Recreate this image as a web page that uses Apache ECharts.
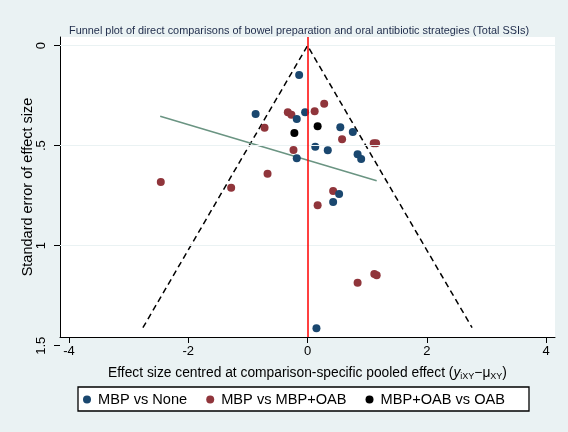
<!DOCTYPE html>
<html>
<head>
<meta charset="utf-8">
<script src="https://cdn.jsdelivr.net/npm/echarts@6/dist/echarts.min.js"></script>
<style>
  html, body { margin: 0; padding: 0; background: #eaf2f3; }
  #chart { width: 568px; height: 432px; }
</style>
</head>
<body>
<div id="chart"></div>
<script>
// Effect sizes (centred) and standard errors per comparison
const noneES = [-0.14, -0.87, -0.04, -0.18, 0.13, -0.18, 0.55, 0.76, 0.34, 0.84, 0.90, 0.53, 0.43, 0.15];
const noneSE = [0.147, 0.342, 0.333, 0.367, 0.505, 0.563, 0.408, 0.431, 0.523, 0.543, 0.567, 0.741, 0.781, 1.413];

const oabES = [-0.33, -0.27, 0.12, -0.72, -0.235, -0.67, -1.28, -2.46, 0.28, 0.58, 1.11, 1.15, 0.43, 0.17, 0.84, 1.12, 1.16];
const oabSE = [0.333, 0.345, 0.328, 0.41, 0.521, 0.64, 0.71, 0.681, 0.29, 0.468, 0.488, 0.488, 0.726, 0.798, 1.185, 1.141, 1.148];

const oabVsOabES = [-0.22, 0.17];
const oabVsOabSE = [0.437, 0.403];

// Pseudo 95% confidence limits of the funnel and the fitted regression line
const funnelES = [-2.76, 0, 2.76];
const funnelSE = [1.41, 0, 1.41];
const fitES = [-2.47, 1.16];
const fitSE = [0.353, 0.675];

// Axes
const xTicks = [-4, -2, 0, 2, 4];
const seTicks = [0, 0.5, 1, 1.5];
const seGrid = [0, 0.5, 1];
const xRange = [-4.15, 4.15];
const seRange = [-0.0435, 1.4565];
const seLabelMax = 1.5;

const seriesNames = ['MBP vs None', 'MBP vs MBP+OAB', 'MBP+OAB vs OAB'];

const zip = (a, b) => a.map((v, i) => [v, b[i]]);
const FONT = 'Liberation Sans, Arial, Helvetica, sans-serif';

const chart = echarts.init(document.getElementById('chart'), null, { renderer: 'canvas' });

chart.setOption({
  animation: false,
  backgroundColor: '#eaf2f3',
  textStyle: { fontFamily: FONT },
  title: {
    text: 'Funnel plot of direct comparisons of bowel preparation and oral antibiotic strategies (Total SSIs)',
    left: 64, top: 20,
    textStyle: { fontSize: 10.9, fontWeight: 'normal', color: '#1e2b4a', fontFamily: FONT }
  },
  legend: {
    data: seriesNames,
    left: 78, top: 387,
    orient: 'horizontal',
    icon: 'circle',
    itemWidth: 8, itemHeight: 8,
    itemGap: 19,
    padding: [5, 24, 4, 5],
    backgroundColor: '#ffffff',
    borderColor: '#000000',
    borderWidth: 1.3,
    borderRadius: 0,
    selectedMode: false,
    textStyle: { fontSize: 14.6, color: '#000', fontFamily: FONT, padding: [0, 0, 0, 2] }
  },
  grid: [
    { left: 60, top: 37, width: 495, height: 300, show: true, backgroundColor: '#ffffff', borderWidth: 0, containLabel: false, outerBoundsMode: 'none' },
    { left: 60, top: 37, width: 495, height: 308.7, show: false, containLabel: false, outerBoundsMode: 'none' }
  ],
  xAxis: [
    {
      gridIndex: 0, type: 'value', min: xRange[0], max: xRange[1],
      axisLine: { show: true, onZero: false, lineStyle: { color: '#000', width: 1 } },
      axisTick: { show: true, customValues: xTicks, length: 6, lineStyle: { color: '#000', width: 1 } },
      axisLabel: { show: true, customValues: xTicks, margin: 8, fontSize: 13, color: '#000', fontFamily: FONT,
                   formatter: v => String(v) },
      splitLine: { show: false },
      name: 'Effect size centred at comparison-specific pooled effect ({i|y}{s|iXY}−μ{s|XY})',
      nameLocation: 'middle', nameGap: 29,
      nameTextStyle: {
        fontSize: 13.8, color: '#000', fontFamily: FONT,
        rich: {
          i: { fontSize: 13.8, fontStyle: 'italic', color: '#000', fontFamily: FONT },
          s: { fontSize: 9, color: '#000', fontFamily: FONT, padding: [6, 0, 0, 0] }
        }
      }
    },
    { gridIndex: 1, type: 'value', min: xRange[0], max: xRange[1], show: false }
  ],
  yAxis: [
    {
      gridIndex: 0, type: 'value', inverse: true, min: seRange[0], max: seRange[1],
      axisLine: { show: true, onZero: false, lineStyle: { color: '#000', width: 1 } },
      axisTick: { show: false }, axisLabel: { show: false }, splitLine: { show: false },
      name: 'Standard error of effect size', nameLocation: 'middle', nameGap: 25, nameRotate: 90,
      nameTextStyle: { fontSize: 14.5, color: '#000', fontFamily: FONT }
    },
    {
      gridIndex: 1, type: 'value', inverse: true, min: seRange[0], max: seLabelMax,
      axisLine: { show: false, onZero: false },
      axisTick: { show: true, customValues: seTicks, length: 6, lineStyle: { color: '#000', width: 1 } },
      axisLabel: { show: true, customValues: seTicks, rotate: 90, margin: 12, fontSize: 13, color: '#000', fontFamily: FONT,
                   formatter: v => (v === 0 ? '0' : String(v).replace(/^0\./, '.')) },
      splitLine: { show: false }
    }
  ],
  series: [
    {
      // horizontal grid lines and the pooled-effect reference line
      type: 'line', xAxisIndex: 0, yAxisIndex: 0, data: [], z: 1, silent: true,
      markLine: {
        silent: true, symbol: 'none', label: { show: false },
        data: seGrid.map(v => ({ yAxis: v, lineStyle: { color: '#eaf2f3', width: 1.2, type: 'solid' } }))
          .concat([{ xAxis: 0, lineStyle: { color: '#ff0000', width: 1.5, type: 'solid' } }])
      }
    },
    {
      name: 'funnel', type: 'line', xAxisIndex: 0, yAxisIndex: 0, z: 2, silent: true,
      data: zip(funnelES, funnelSE), symbol: 'none',
      lineStyle: { color: '#000', width: 1.5, type: [6, 4] }
    },
    {
      name: 'fit', type: 'line', xAxisIndex: 0, yAxisIndex: 0, z: 2, silent: true,
      data: zip(fitES, fitSE), symbol: 'none',
      lineStyle: { color: '#6a9482', width: 1.5, type: 'solid' }
    },
    {
      name: seriesNames[1], type: 'scatter', xAxisIndex: 0, yAxisIndex: 0, z: 3,
      data: zip(oabES, oabSE), symbol: 'circle', symbolSize: 8,
      itemStyle: { color: '#90353b', opacity: 1 }
    },
    {
      name: seriesNames[0], type: 'scatter', xAxisIndex: 0, yAxisIndex: 0, z: 3,
      data: zip(noneES, noneSE), symbol: 'circle', symbolSize: 8,
      itemStyle: { color: '#1a476f', opacity: 1 }
    },
    {
      name: seriesNames[2], type: 'scatter', xAxisIndex: 0, yAxisIndex: 0, z: 3,
      data: zip(oabVsOabES, oabVsOabSE), symbol: 'circle', symbolSize: 8,
      itemStyle: { color: '#000000', opacity: 1 }
    }
  ]
});
</script>
</body>
</html>
